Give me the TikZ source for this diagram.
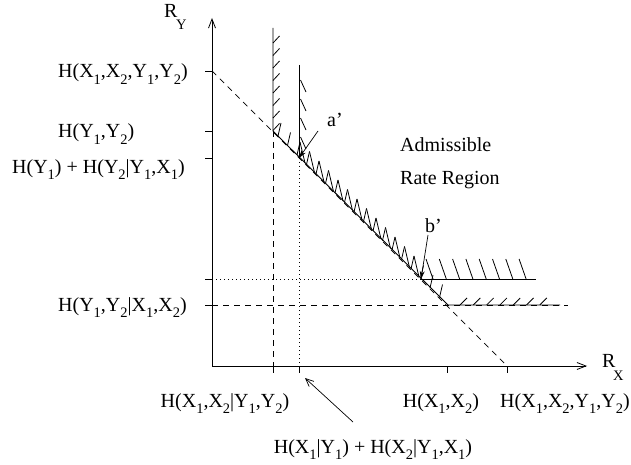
\documentclass[tikz,border=0pt]{standalone}
\usepackage{fontspec}
\setmainfont{Liberation Serif}
\usetikzlibrary{arrows.meta}
\newcommand{\lsub}[1]{\raisebox{-6.5pt}{\fontsize{14.5}{14.5}\selectfont #1}}
\begin{document}
\begin{tikzpicture}[x=1pt,y=-1pt,
  font=\fontsize{20}{24}\selectfont,
  lbl/.style={inner sep=0pt,anchor=base west},
  lblc/.style={inner sep=0pt,anchor=base},
  axis/.style={line width=0.8pt,-{Straight Barb[length=9pt,width=7pt]}},
  bound/.style={line width=0.9pt},
  hatch/.style={line width=0.8pt},
  dsh/.style={line width=0.7pt,dash pattern=on 6pt off 5pt},
  dtt/.style={line width=0.8pt,dash pattern=on 1pt off 3pt},
  ptr/.style={line width=0.7pt,-{Stealth[length=8pt,width=5pt]}},
  ptrb/.style={line width=0.7pt,-{Straight Barb[length=8pt,width=7pt]}}]
\useasboundingbox (0,0) rectangle (631,465);
% axes
\coordinate (O) at (212,366);
\coordinate (Ytop) at (212,18);
\coordinate (Xend) at (587,366);
\draw[axis] (O) -- (Ytop);
\draw[axis] (O) -- (Xend);
% y ticks
\foreach \y in {71,131,158,279,305} \draw[line width=0.7pt] (205,\y) -- (212,\y);
% x ticks
\foreach \x in {273,299,447,507} \draw[line width=0.7pt] (\x,366) -- (\x,373);
% dashed / dotted guides
\coordinate (D1) at (212,71);
\coordinate (D2) at (507,366);
\draw[dsh] (D1) -- (D2);
\draw[dsh] (273,131) -- (273,366);
\draw[dtt] (299,158) -- (299,366);
\draw[dtt] (212,279) -- (421,279);
\draw[dsh] (212,305) -- (568,305);
% solid boundaries
\coordinate (A1) at (273,28);
\coordinate (A2) at (273,131);
\coordinate (A3) at (448,305);
\coordinate (A4) at (560,305);
\draw[bound] (A1) -- (A2) -- (A3) -- (A4);
\coordinate (B1) at (299,65);
\coordinate (B2) at (299,158);
\coordinate (B3) at (421,279);
\coordinate (B4) at (536,279);
\draw[bound] (B1) -- (B2);
\draw[bound] (B3) -- (B4);
% hatches region 1
\foreach \y in {43,55.5,...,131} \draw[hatch] (273,\y) -- ++(6.5,-7);
\foreach \x in {278,287.5,...,447} \draw[hatch] (\x,\x-142) -- ++(3,-13);
\foreach \x in {460,473.3,...,542} \draw[hatch] (\x,305) -- ++(7,-7);
% hatches region 2
\foreach \y in {80,99,118,137} \draw[hatch] (300.5,\y) -- ++(5.5,12);
\foreach \x in {297,306.5,...,412} \draw[hatch] (\x+8,\x-134) -- ++(-5,-21);
\foreach \x in {433,446.3,...,529} \draw[hatch] (\x,279) -- ++(-7,-20);
% axis labels
\node[lbl] (ry) at (164,18) {R};
\node[lbl,font=\fontsize{14.5}{14.5}\selectfont] (ryy) at (176,30) {Y};
\node[lbl] (rx) at (602,367) {R};
\node[lbl,font=\fontsize{14.5}{14.5}\selectfont] (rxx) at (613,380) {X};
% left labels
\node[lbl] (l1) at (58,78) {H(X\lsub1,X\lsub2,Y\lsub1,Y\lsub2)};
\node[lbl] (l2) at (58,138) {H(Y\lsub1,Y\lsub2)};
\node[lbl] (l3) at (12,173) {H(Y\lsub1) + H(Y\lsub2|Y\lsub1,X\lsub1)};
\node[lbl] (l4) at (58,311) {H(Y\lsub1,Y\lsub2|X\lsub1,X\lsub2)};
% bottom labels
\node[lblc] (b1) at (225,407) {H(X\lsub1,X\lsub2|Y\lsub1,Y\lsub2)};
\node[lblc] (b2) at (441,407) {H(X\lsub1,X\lsub2)};
\node[lblc] (b3) at (565,407) {H(X\lsub1,X\lsub2,Y\lsub1,Y\lsub2)};
\node[lblc] (b4) at (373,453) {H(X\lsub1|Y\lsub1) + H(X\lsub2|Y\lsub1,X\lsub1)};
% region text
\node[lbl] (t1) at (400,152) {Admissible};
\node[lbl] (t2) at (400,185) {Rate Region};
% point labels and pointers
\node[lbl] (pa) at (327,127) {a’};
\node[lbl] (pb) at (425,232) {b’};
\coordinate (pas) at (318,131);
\coordinate (pbs) at (428,235);
\coordinate (bs) at (353,422);
\coordinate (bt) at (305,378);
\draw[ptr] (pas) -- (B2);
\draw[ptr] (pbs) -- (B3);
\draw[ptrb] (bs) -- (bt);
\end{tikzpicture}
\end{document}
